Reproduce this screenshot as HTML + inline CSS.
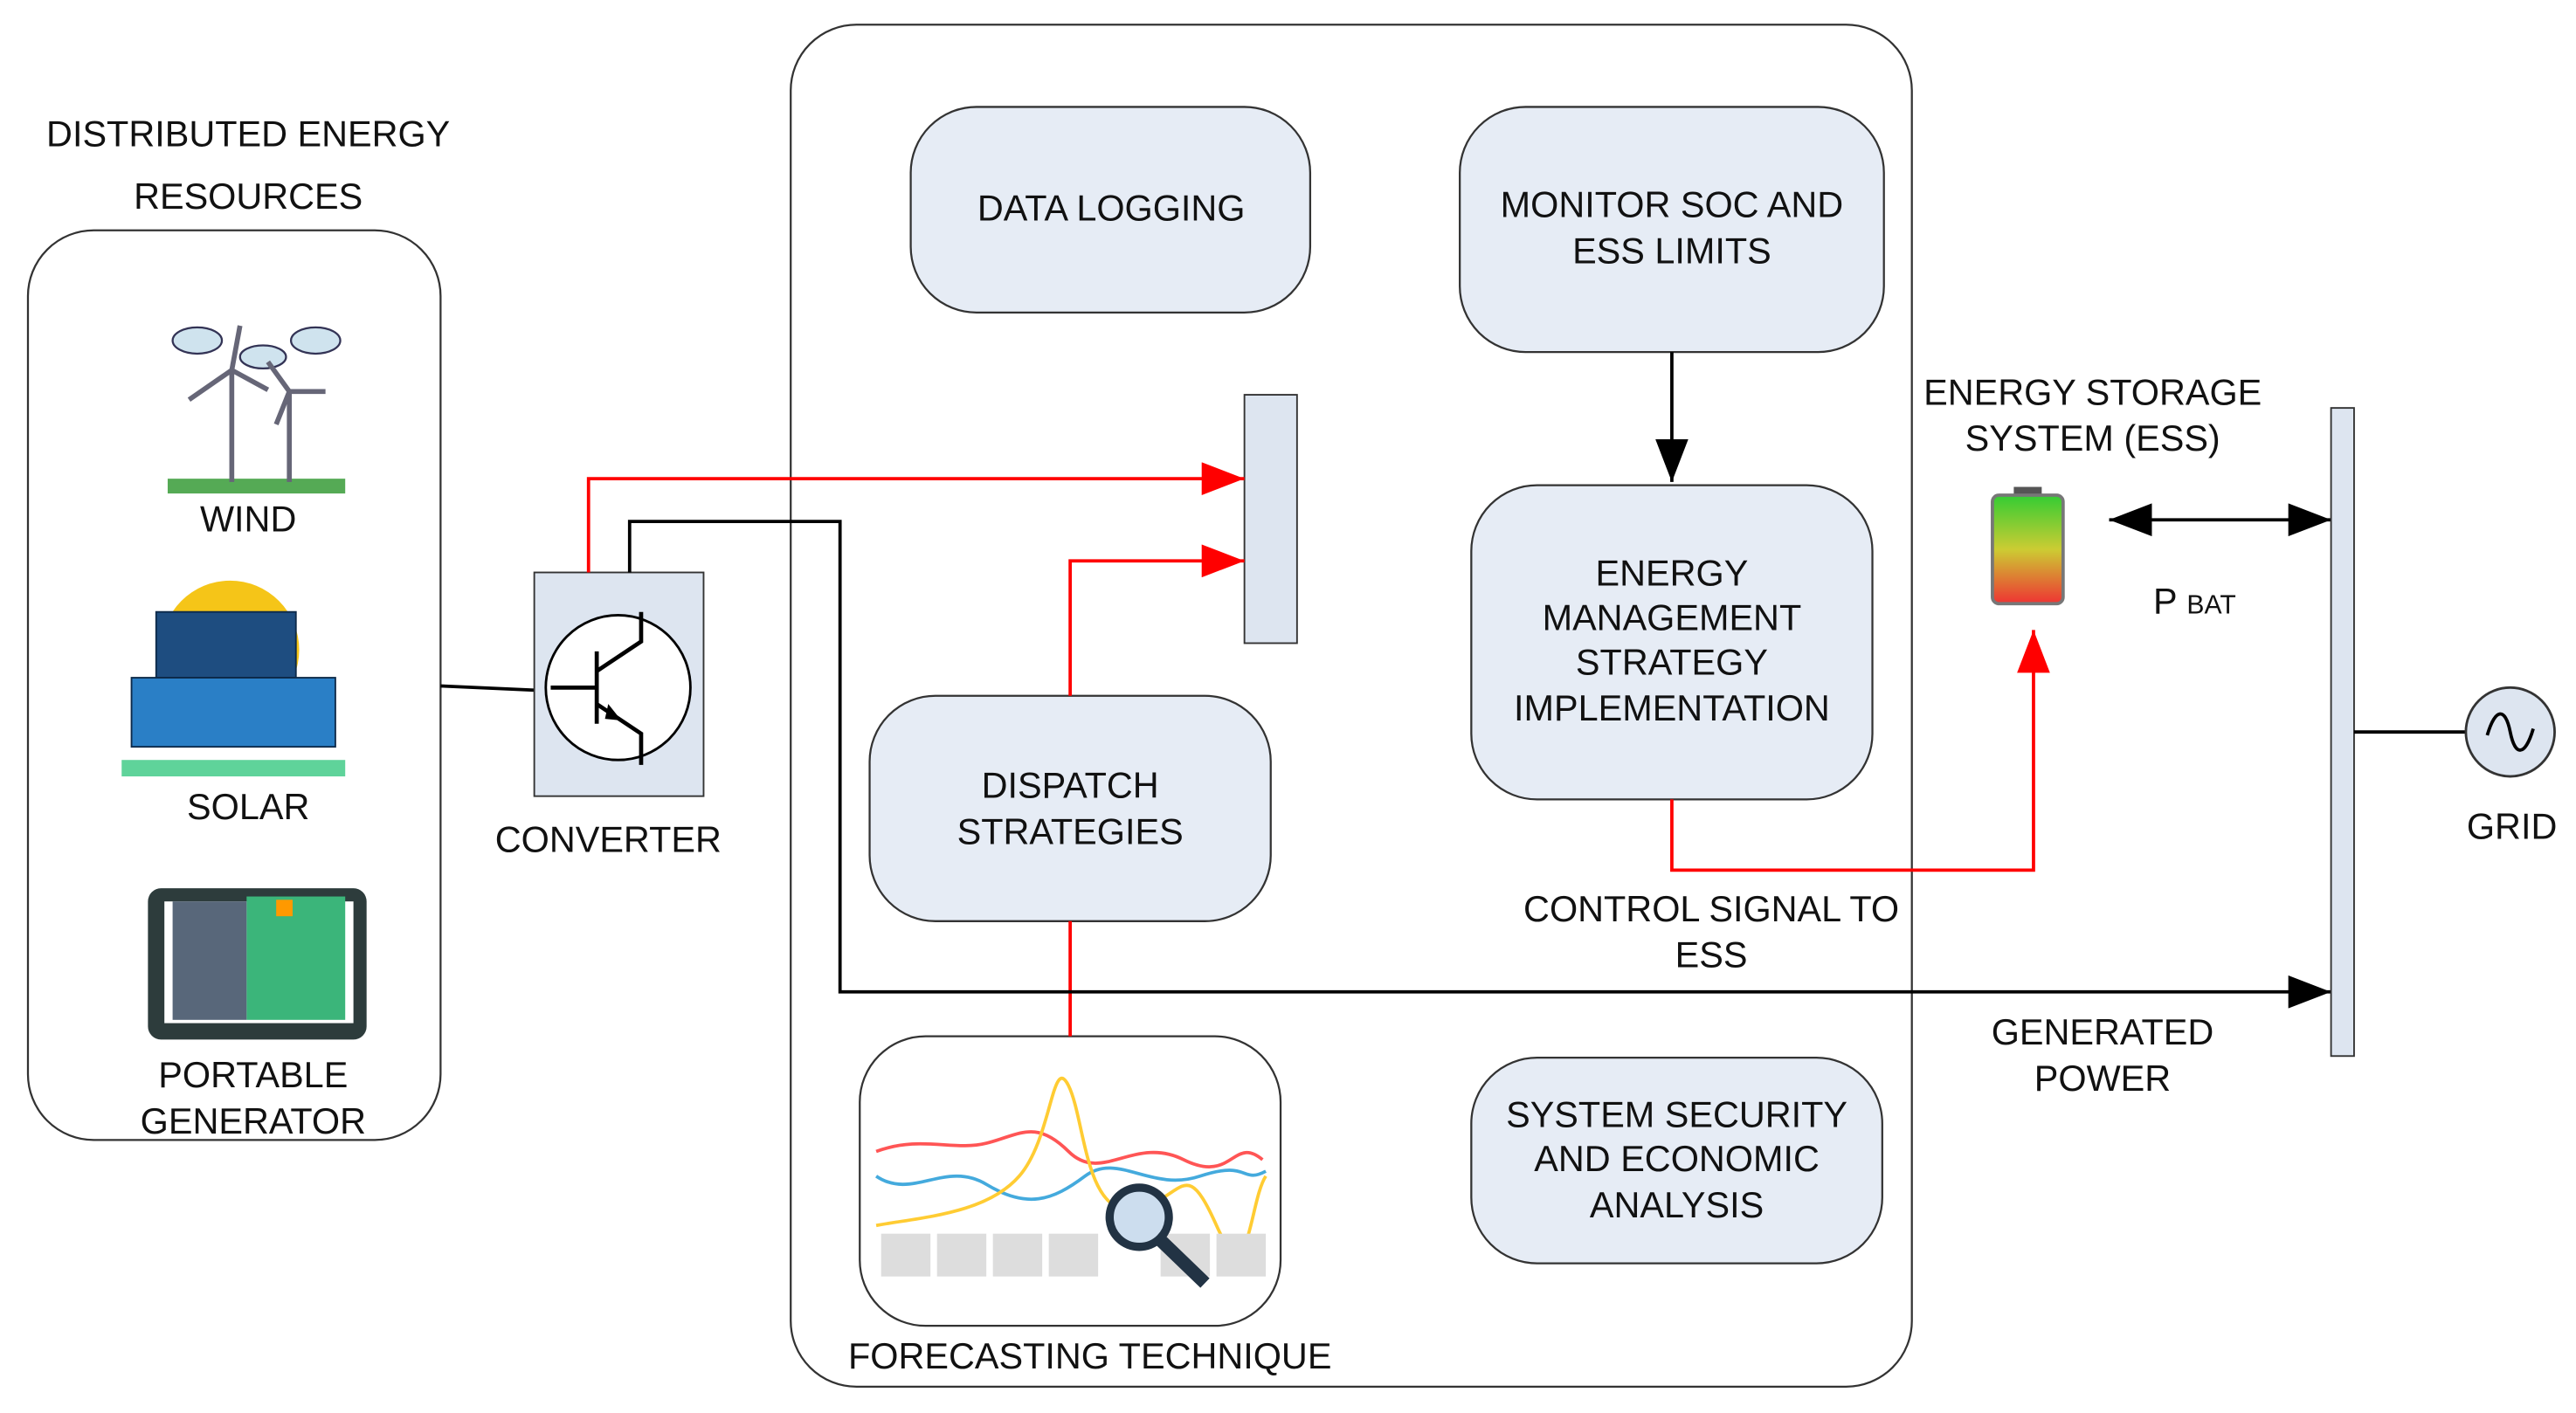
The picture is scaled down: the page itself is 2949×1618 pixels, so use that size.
<!DOCTYPE html>
<html><head><meta charset="utf-8"><style>
html,body{margin:0;padding:0;background:#fff}
svg{display:block}
text{font-family:"Liberation Sans",Arial,sans-serif;font-size:22px;fill:#111;text-anchor:middle}
</style></head><body>
<svg width="2949" height="1618" viewBox="0 0 1567 859" preserveAspectRatio="none" xmlns="http://www.w3.org/2000/svg">
<defs>
<marker id="red" markerWidth="26" markerHeight="20" refX="26" refY="10" orient="auto" markerUnits="userSpaceOnUse"><path d="M0,0 L26,10 L0,20 z" fill="#f00"/></marker>
<marker id="blk" markerWidth="26" markerHeight="20" refX="26" refY="10" orient="auto" markerUnits="userSpaceOnUse"><path d="M0,0 L26,10 L0,20 z" fill="#000"/></marker>
<marker id="blks" markerWidth="26" markerHeight="20" refX="0" refY="10" orient="auto" markerUnits="userSpaceOnUse"><path d="M26,0 L0,10 L26,20 z" fill="#000"/></marker>
<linearGradient id="bat" x1="0" y1="0" x2="0" y2="1"><stop offset="0" stop-color="#3c3"/><stop offset="0.5" stop-color="#cc3"/><stop offset="1" stop-color="#e33"/></linearGradient>
</defs>

<text x="151" y="89">DISTRIBUTED ENERGY</text>
<text x="151" y="127">RESOURCES</text>
<rect x="17" y="140" width="251" height="553" rx="40" fill="#fff" stroke="#333" stroke-width="1.2"/>

<rect x="102" y="291" width="108" height="9" fill="#5a5"/>
<g fill="#cfe3ee" stroke="#335" stroke-width="1.2">
<ellipse cx="120" cy="207" rx="15" ry="8"/><ellipse cx="160" cy="217" rx="14" ry="7"/><ellipse cx="192" cy="207" rx="15" ry="8"/>
</g>
<g stroke="#667" stroke-width="3" fill="none">
<line x1="141" y1="225" x2="141" y2="293"/><line x1="141" y1="225" x2="115" y2="243"/><line x1="141" y1="225" x2="163" y2="237"/><line x1="141" y1="225" x2="146" y2="198"/>
<line x1="176" y1="238" x2="176" y2="293"/><line x1="176" y1="238" x2="163" y2="220"/><line x1="176" y1="238" x2="198" y2="238"/><line x1="176" y1="238" x2="168" y2="258"/>
</g>
<text x="151" y="323">WIND</text>

<circle cx="140" cy="395" r="42" fill="#f5c518"/>
<rect x="95" y="372" width="85" height="40" fill="#1e4d80" stroke="#0d2a4a"/>
<rect x="80" y="412" width="124" height="42" fill="#2a7fc6" stroke="#0d2a4a"/>
<rect x="74" y="462" width="136" height="10" fill="#5fd39a"/>
<text x="151" y="498">SOLAR</text>

<rect x="90" y="540" width="133" height="92" rx="8" fill="#2d3c3c"/>
<rect x="100" y="548" width="115" height="74" fill="#fff"/>
<rect x="150" y="545" width="60" height="75" fill="#3bb57a"/>
<rect x="105" y="548" width="45" height="72" fill="#58677a"/>
<rect x="168" y="547" width="10" height="10" fill="#f90"/>
<text x="154" y="661">PORTABLE</text>
<text x="154" y="689">GENERATOR</text>

<line x1="268" y1="417" x2="335" y2="420" stroke="#000" stroke-width="2"/>

<rect x="325" y="348" width="103" height="136" fill="#dde5f0" stroke="#333"/>
<circle cx="376" cy="418" r="44" fill="#fff" stroke="#000" stroke-width="1.5"/>
<g stroke="#000" stroke-width="2.5" fill="none">
<line x1="335" y1="418" x2="363" y2="418"/><line x1="363" y1="396" x2="363" y2="440"/>
<path d="M363,408 L390,390 L390,372"/><path d="M363,428 L390,446 L390,465"/>
</g>
<path d="M378,438 L370,428 L368,437 z" fill="#000"/>
<text x="370" y="518">CONVERTER</text>

<rect x="481" y="15" width="682" height="828" rx="40" fill="none" stroke="#333" stroke-width="1.2"/>

<g fill="#e6ecf5" stroke="#333" stroke-width="1.2">
<rect x="554" y="65" width="243" height="125" rx="40"/>
<rect x="888" y="65" width="258" height="149" rx="40"/>
<rect x="895" y="295" width="244" height="191" rx="40"/>
<rect x="529" y="423" width="244" height="137" rx="40"/>
<rect x="523" y="630" width="256" height="176" rx="40" fill="#fff"/>
<rect x="895" y="643" width="250" height="125" rx="40"/>
</g>
<rect x="757" y="240" width="32" height="151" fill="#dde5f0" stroke="#333"/>

<text x="676" y="134">DATA LOGGING</text>
<text x="1017" y="132">MONITOR SOC AND</text>
<text x="1017" y="160">ESS LIMITS</text>
<text x="1017" y="356">ENERGY</text>
<text x="1017" y="383">MANAGEMENT</text>
<text x="1017" y="410">STRATEGY</text>
<text x="1017" y="438">IMPLEMENTATION</text>
<text x="651" y="485">DISPATCH</text>
<text x="651" y="513">STRATEGIES</text>
<text x="1020" y="685">SYSTEM SECURITY</text>
<text x="1020" y="712">AND ECONOMIC</text>
<text x="1020" y="740">ANALYSIS</text>
<text x="663" y="832">FORECASTING TECHNIQUE</text>

<g fill="none" stroke-width="2">
<path d="M533,700 C560,690 580,700 600,695 S630,680 650,700 S690,690 720,705 S750,690 768,705" stroke="#f55"/>
<path d="M533,715 C555,730 575,705 600,720 S640,730 660,715 S700,725 730,715 S755,720 770,712" stroke="#4ad"/>
<path d="M533,745 C560,740 600,738 620,715 S640,640 650,660 S660,740 690,735 S720,700 740,745 S760,730 770,715" stroke="#fc3"/>
</g>
<g fill="#ddd"><rect x="536" y="750" width="30" height="26"/><rect x="570" y="750" width="30" height="26"/><rect x="604" y="750" width="30" height="26"/><rect x="638" y="750" width="30" height="26"/><rect x="706" y="750" width="30" height="26"/><rect x="740" y="750" width="30" height="26"/></g>
<circle cx="693" cy="740" r="18" fill="#cde" stroke="#234" stroke-width="5"/>
<line x1="706" y1="754" x2="733" y2="780" stroke="#234" stroke-width="8"/>

<path d="M358,348 V291 H757" fill="none" stroke="#f00" stroke-width="2" marker-end="url(#red)"/>
<path d="M651,423 V341 H757" fill="none" stroke="#f00" stroke-width="2" marker-end="url(#red)"/>
<line x1="651" y1="560" x2="651" y2="630" stroke="#f00" stroke-width="2"/>
<path d="M383,348 V317 H511 V603 H1418" fill="none" stroke="#000" stroke-width="2" marker-end="url(#blk)"/>
<line x1="1017" y1="214" x2="1017" y2="293" stroke="#000" stroke-width="2" marker-end="url(#blk)"/>
<path d="M1017,486 V529 H1237 V383" fill="none" stroke="#f00" stroke-width="2" marker-end="url(#red)"/>
<line x1="1283" y1="316" x2="1418" y2="316" stroke="#000" stroke-width="2" marker-start="url(#blks)" marker-end="url(#blk)"/>

<text x="1041" y="560">CONTROL SIGNAL TO</text>
<text x="1041" y="588">ESS</text>
<text x="1273" y="246">ENERGY STORAGE</text>
<text x="1273" y="274">SYSTEM (ESS)</text>
<rect x="1225" y="296" width="17" height="6" fill="#555"/>
<rect x="1212" y="301" width="43" height="66" rx="4" fill="url(#bat)" stroke="#777" stroke-width="2"/>
<text x="1335" y="373">P <tspan font-size="16">BAT</tspan></text>

<rect x="1418" y="248" width="14" height="394" fill="#dde5f0" stroke="#333"/>
<text x="1279" y="635">GENERATED</text>
<text x="1279" y="663">POWER</text>
<line x1="1432" y1="445" x2="1500" y2="445" stroke="#000" stroke-width="2"/>
<circle cx="1527" cy="445" r="27" fill="#dde5f0" stroke="#333" stroke-width="1.5"/>
<path d="M1513,447 C1518,430 1524,430 1527,445 S1536,460 1541,443" fill="none" stroke="#000" stroke-width="2"/>
<text x="1528" y="510">GRID</text>
</svg>
</body></html>
